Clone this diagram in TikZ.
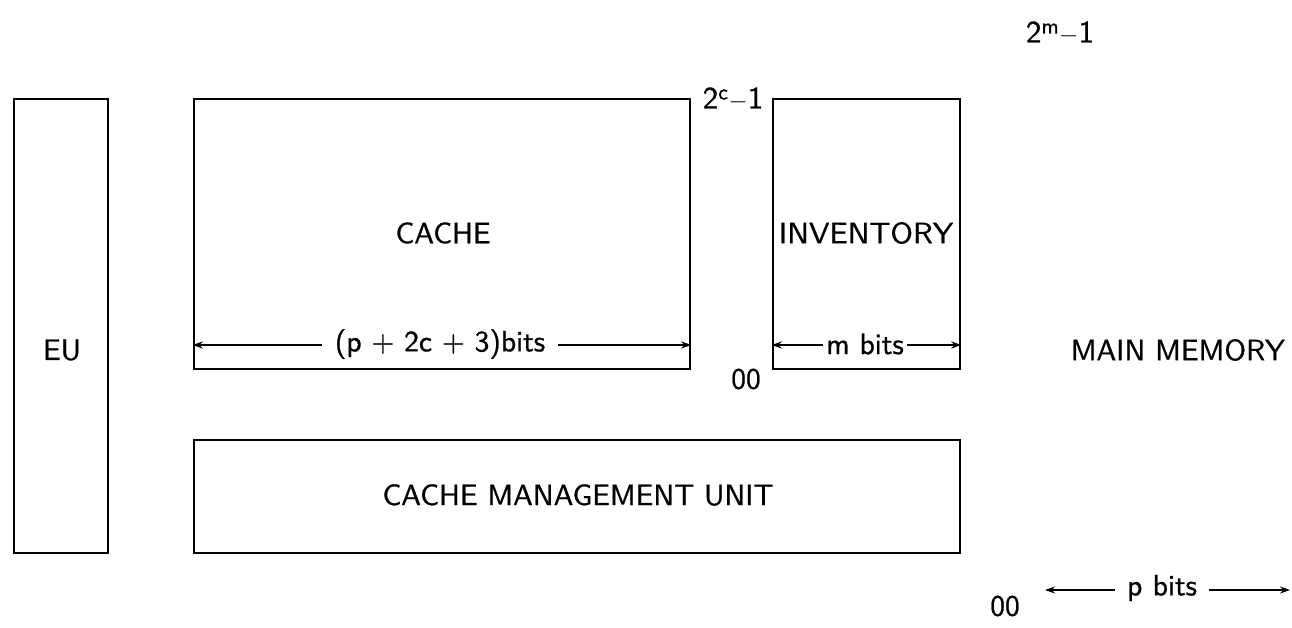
\documentclass[tikz,border=0pt]{standalone}
\usepackage{fontspec}
\usetikzlibrary{arrows.meta}
\newfontfamily\lblfont{lmsans10-regular.otf}[FakeBold=0.8]
\begin{document}
\begin{tikzpicture}[x=1pt,y=-1pt,
  unit/.style={draw,line width=2.6pt,inner sep=0pt},
  lbl/.style={font=\lblfont\fontsize{29.5}{34}\selectfont,inner sep=1pt},
  dim/.style={line width=1.8pt,{Stealth[length=10pt,width=7pt]}-{Stealth[length=10pt,width=7pt]}},
  dimtext/.style={lbl,fill=white,inner sep=6pt}]
\useasboundingbox (0,0) rectangle (1292,628);
% functional blocks
\node[unit,minimum width=94pt,minimum height=454pt] (eu) at (61,326) {};
\node[lbl] at (62,350) {EU};
\node[unit,minimum width=496pt,minimum height=270pt] (cache) at (442,234) {};
\node[lbl] at (443,233) {CACHE};
\node[unit,minimum width=187pt,minimum height=270pt] (inv) at (866.5,234) {};
\node[lbl] at (866,233) {\scalebox{1.04}[1]{INVENTORY}};
\node[unit,minimum width=766pt,minimum height=113pt] (cmu) at (577,496.5) {};
\node[lbl] at (578,495) {CACHE MANAGEMENT UNIT};
\node[lbl,anchor=east] (mm) at (1286,350) {MAIN MEMORY};
% address labels
\node[lbl,font=\lblfont\fontsize{31}{36}\selectfont] (ctop) at (733,99) {2\textsuperscript{c}$-$1};
\node[lbl] (cbot) at (746,379) {00};
\node[lbl,font=\lblfont\fontsize{31}{36}\selectfont] (mtop) at (1060,33) {2\textsuperscript{m}$-$1};
\node[lbl] (mbot) at (1005,606) {00};
% width dimensions
\coordinate (cl) at (cache.west |- 0,345);
\coordinate (cr) at (cache.east |- 0,345);
\draw[dim] (cl) -- (cr);
\node[dimtext,inner sep=13pt,inner ysep=4pt] at (440,344) {(p + 2c + 3)bits};
\coordinate (il) at (inv.west |- 0,345);
\coordinate (ir) at (inv.east |- 0,345);
\draw[dim] (il) -- (ir);
\node[dimtext,inner sep=3pt] at (865,344) {m bits};
\coordinate (pl) at (1045,590);
\coordinate (pr) at (1290,590);
\draw[dim] (pl) -- (pr);
\node[dimtext,inner sep=12pt,inner ysep=4pt] at (1162,588) {p\hspace{0.35em}bits};
\end{tikzpicture}
\end{document}
